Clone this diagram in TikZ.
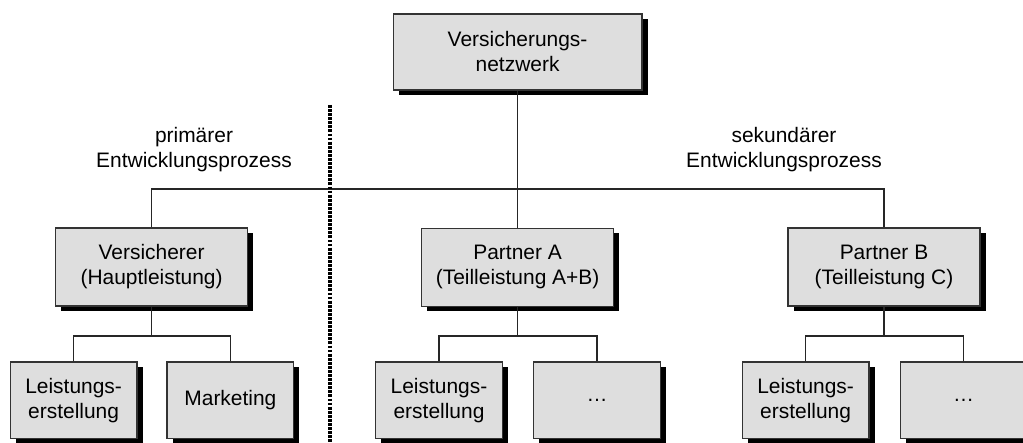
\documentclass[tikz,border=0pt]{standalone}
\usepackage{fontspec}
\setmainfont{Liberation Sans}
\usepackage{tikz}
\usetikzlibrary{shadows}
\tikzset{
  orgbox/.style   = {rectangle, draw=black!80, line width=0.9pt, fill=black!13,
                     align=center, font=\fontsize{14.9}{17.8}\selectfont, inner sep=2pt,
                     drop shadow={shadow xshift=0.14cm, shadow yshift=-0.13cm,
                                  fill=black, opacity=1}},
  orgroot/.style  = {orgbox, minimum width=62.2mm, minimum height=19mm},
  orgmain/.style  = {orgbox, minimum width=48mm, minimum height=19.5mm},
  orgleaf/.style  = {orgbox, minimum width=31.7mm, minimum height=19.2mm},
  orgline/.style  = {draw=black!85, line width=0.75pt},
  orgsplit/.style = {draw=black, line width=2.4pt, dash pattern=on 2pt off 0.9pt},
  orglbl/.style   = {align=center, font=\fontsize{14.9}{17.8}\selectfont, inner sep=0pt},
}

\begin{document}
\begin{tikzpicture}
  \useasboundingbox (0,0) rectangle (25.575,11.05);

  % bus levels and the dividing line
  \coordinate (bus)    at (0,6.325);
  \coordinate (subbus) at (0,2.65);
  \coordinate (divtop) at (8.25,8.425);
  \coordinate (divbot) at (8.25,0);

  \node[orgroot] (netz)  at (12.94,9.75)  {Versicherungs-\\netzwerk};
  \node[orgmain] (vers)  at (3.79,4.375)  {Versicherer\\(Hauptleistung)};
  \node[orgmain] (partA) at (12.94,4.37)  {Partner A\\(Teilleistung A+B)};
  \node[orgmain] (partB) at (22.1,4.375)  {Partner B\\(Teilleistung C)};

  \node[orgleaf] (verslst)  at (1.84,1.04)   {Leistungs-\\erstellung};
  \node[orgleaf] (versmkt)  at (5.76,1.04)   {Marketing};
  \node[orgleaf] (partAlst) at (10.975,1.04) {Leistungs-\\erstellung};
  \node[orgleaf] (partAetc) at (14.925,1.04) {\dots};
  \node[orgleaf] (partBlst) at (20.14,1.04)  {Leistungs-\\erstellung};
  \node[orgleaf] (partBetc) at (24.09,1.04)  {\dots};

  \node[orglbl] (prim) at (4.85,7.3)  {primärer\\Entwicklungsprozess};
  \node[orglbl] (sek)  at (19.6,7.3)  {sekundärer\\Entwicklungsprozess};

  % top level
  \draw[orgline] (netz.south) -- (partA.north);
  \draw[orgline] (vers.north) -- (vers.north |- bus) -- (partB.north |- bus) -- (partB.north);

  % sub units
  \draw[orgline] (vers.south) -- (vers.south |- subbus);
  \draw[orgline] (verslst.north) -- (verslst.north |- subbus) -- (versmkt.north |- subbus) -- (versmkt.north);
  \draw[orgline] (partA.south) -- (partA.south |- subbus);
  \draw[orgline] (partAlst.north) -- (partAlst.north |- subbus) -- (partAetc.north |- subbus) -- (partAetc.north);
  \draw[orgline] (partB.south) -- (partB.south |- subbus);
  \draw[orgline] (partBlst.north) -- (partBlst.north |- subbus) -- (partBetc.north |- subbus) -- (partBetc.north);

  \draw[orgsplit] (divtop) -- (divbot);
\end{tikzpicture}
\end{document}
